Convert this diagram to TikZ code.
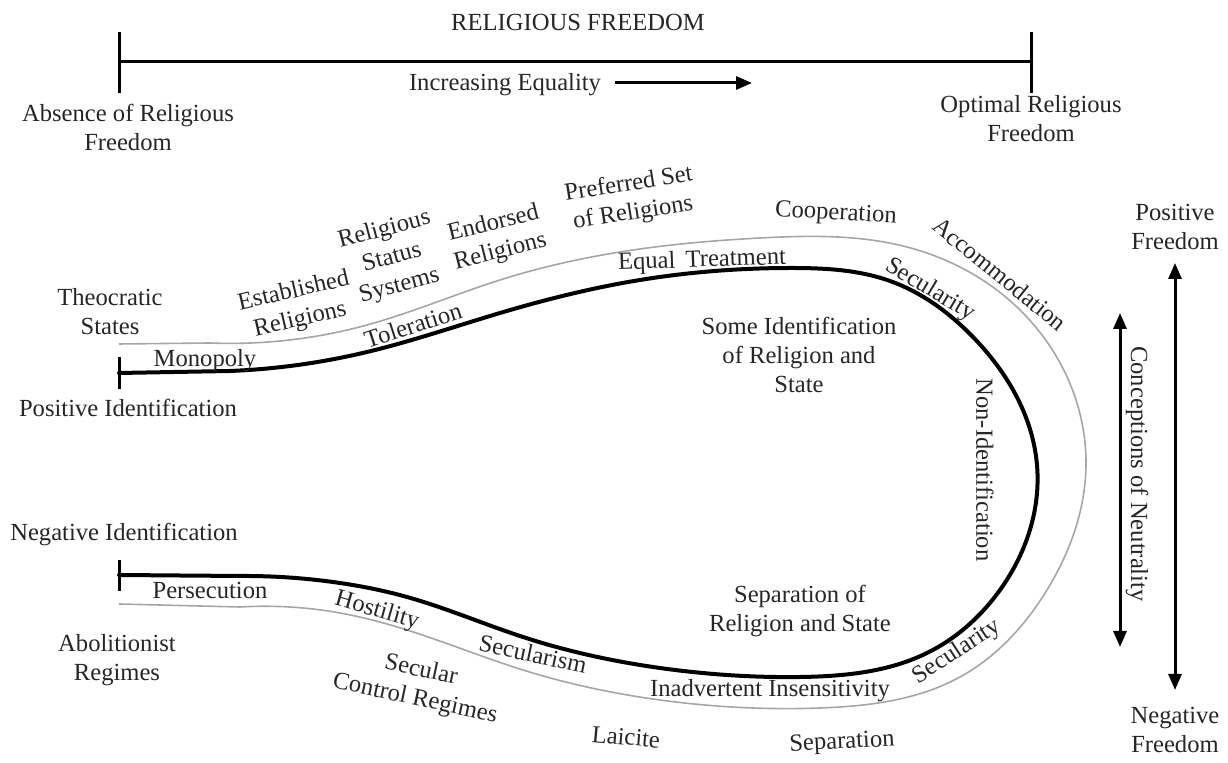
\documentclass[tikz,border=0pt]{standalone}
\usepackage{fontspec}
\setmainfont{Liberation Serif}
\usetikzlibrary{hobby, arrows.meta}

\begin{document}
\begin{tikzpicture}[x=0.5pt, y=-0.5pt, use Hobby shortcut,
		every node/.style={font=\fontsize{12.3}{14.5}\selectfont, align=center, inner sep=0pt, text=black!85},
		scaleline/.style={line width=1.5pt},
		thickpath/.style={line width=2pt, line cap=round},
		thinpath/.style={line width=0.8pt, gray!70},
		freedomarrow/.style={line width=1.5pt, {Triangle[length=8pt, width=6.5pt]}-{Triangle[length=8pt, width=6.5pt]}}]
		\useasboundingbox (0,0) rectangle (1228,763);

		% freedom scale
		\coordinate (scaleL) at (119,62);
		\coordinate (scaleR) at (1031,62);
		\draw[scaleline] (scaleL) -- (scaleR);
		\draw[scaleline] (119,32) -- (119,93);
		\draw[scaleline] (1031,32) -- (1031,93);
		\node (title) at (578,22) {RELIGIOUS FREEDOM};
		\node (equality) at (505,85) {Increasing Equality};
		\coordinate (eqEnd) at (752,83);
		\draw[line width=1.5pt, -{Triangle[length=8pt, width=6.5pt]}] (615,83) -- (eqEnd);
		\node (absence) at (128,127) {Absence of Religious\\Freedom};
		\node (optimal) at (1031,119) {Optimal Religious\\Freedom};

		% identification curves
		\draw[thickpath] (119,373) -- (230,371) .. (367,352) .. (500,313) .. (640,280) .. (791,268) .. (890,281)
			.. (973,337) .. (1037,465) .. (1000,590) .. (927,653) .. (800,677) .. (660,668) .. (523,637)
			.. (407,597) .. (340,583) .. (240,576) -- (119,575);
		\draw[scaleline] (119,357) -- (119,389);
		\draw[scaleline] (119,560) -- (119,591);
		\draw[thinpath] (119,344) -- (210,343) .. (367,325) .. (500,280) .. (633,250) .. (760,238) .. (907,247)
			.. (1023,313) .. (1086,465) .. (1047,590) .. (960,677) .. (820,708) .. (660,700) .. (523,670)
			.. (407,630) .. (340,613) .. (240,607) -- (119,604);

		\node (theocratic) at (110,312) {Theocratic\\States};
		\node (monopoly) at (205,361) {Monopoly};
		\node (posident) at (128,408) {Positive Identification};
		\node (negident) at (124,535) {Negative Identification};
		\node (persecution) at (210,590) {Persecution};
		\node (abolition) at (117,660) {Abolitionist\\Regimes};

		\node[rotate=13] (established) at (297,306) {Established\\Religions};
		\node[rotate=15] (status) at (392,258) {Religious\\Status\\Systems};
		\node[rotate=14] (endorsed) at (497,238) {Endorsed\\Religions};
		\node[rotate=9] (preferred) at (631,199) {Preferred Set\\of Religions};
		\node[rotate=-3] (cooperation) at (836,214) {Cooperation};
		\node[rotate=-39] (accommodation) at (1000,274) {Accommodation};
		\node[rotate=2] (equal) at (702,261) {Equal\, Treatment};
		\node[rotate=18] (toleration) at (413,325) {Toleration};
		\node[rotate=-31] (secularityU) at (930,290) {Secularity};
		\node (someident) at (799,355) {Some Identification\\of Religion and\\State};
		\node[rotate=-90] (nonident) at (985,470) {Non-Identification};

		\node[rotate=-16] (hostility) at (377,611) {Hostility};
		\node[rotate=-12] (secularism) at (533,654) {Secularism};
		\node[rotate=-12] (secularcontrol) at (418,685) {Secular\\Control Regimes};
		\node[rotate=-5] (laicite) at (626,737) {Laicite};
		\node[rotate=3] (separation) at (842,743) {Separation};
		\node[rotate=33] (secularityL) at (957,652) {Secularity};
		\node (separationRS) at (800,611) {Separation of\\Religion and State};
		\node (inadvertent) at (770,691) {Inadvertent Insensitivity};

		% neutrality and freedom arrows
		\coordinate (neutTop) at (1120,313);
		\coordinate (neutBot) at (1120,647);
		\draw[freedomarrow] (neutTop) -- (neutBot);
		\node[rotate=-90] (neutrality) at (1137,474) {Conceptions of Neutrality};
		\node (posfreedom) at (1175,227) {Positive\\Freedom};
		\node (negfreedom) at (1175,730) {Negative\\Freedom};
		\draw[freedomarrow] (posfreedom.south |- 0,263) -- (posfreedom.south |- 0,690);
	\end{tikzpicture}
\end{document}
